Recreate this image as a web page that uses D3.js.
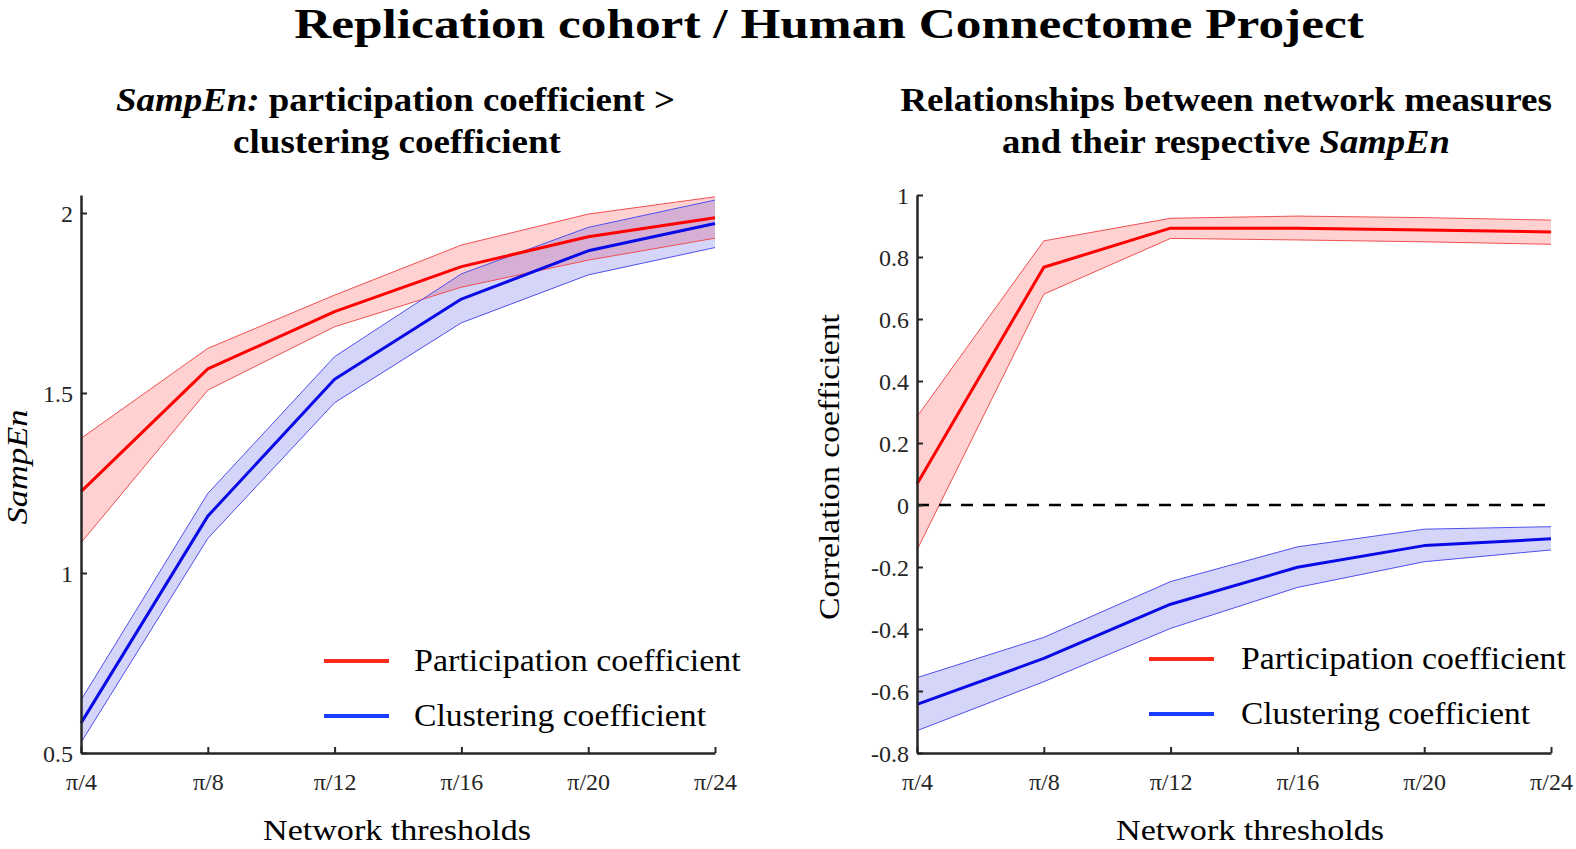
<!DOCTYPE html>
<html>
<head>
<meta charset="utf-8">
<script src="https://cdn.jsdelivr.net/npm/d3@7"></script>
<style>
  html, body { margin: 0; padding: 0; background: #fff; }
  svg { display: block; }
</style>
</head>
<body>
<svg id="chart" width="1576" height="849"></svg>
<script>
// ---------------- DATA ----------------
const thresholds = ["π/4", "π/8", "π/12", "π/16", "π/20", "π/24"];

// Left panel: SampEn
const sampenTicks = [0.5, 1, 1.5, 2];
const sampenTickLabels = ["0.5", "1", "1.5", "2"];
const sampenPartMean  = [1.226, 1.567, 1.726, 1.851, 1.934, 1.987];
const sampenPartUpper = [1.374, 1.624, 1.772, 1.911, 1.997, 2.045];
const sampenPartLower = [1.084, 1.508, 1.684, 1.794, 1.869, 1.930];
const sampenClustMean  = [0.583, 1.158, 1.538, 1.761, 1.895, 1.971];
const sampenClustUpper = [0.647, 1.221, 1.601, 1.831, 1.960, 2.036];
const sampenClustLower = [0.529, 1.096, 1.473, 1.695, 1.828, 1.904];

// Right panel: correlation coefficient
const corrTicks = [-0.8, -0.6, -0.4, -0.2, 0, 0.2, 0.4, 0.6, 0.8, 1];
const corrTickLabels = ["-0.8", "-0.6", "-0.4", "-0.2", "0", "0.2", "0.4", "0.6", "0.8", "1"];
const corrPartMean  = [0.068, 0.767, 0.893, 0.893, 0.887, 0.881];
const corrPartUpper = [0.285, 0.852, 0.925, 0.932, 0.927, 0.919];
const corrPartLower = [-0.145, 0.680, 0.860, 0.855, 0.849, 0.841];
const corrClustMean  = [-0.643, -0.495, -0.320, -0.201, -0.131, -0.109];
const corrClustUpper = [-0.557, -0.427, -0.247, -0.135, -0.078, -0.070];
const corrClustLower = [-0.728, -0.570, -0.398, -0.266, -0.183, -0.145];

const seriesNames = ["Participation coefficient", "Clustering coefficient"];

// ---------------- STYLE ----------------
const SERIF = "'Liberation Serif', 'Times New Roman', serif";
const AXIS_COL = "#262626";
const RED = "#ff0000", BLUE = "#0a0ae6";
const RED_FILL = "rgba(255,0,0,0.18)", BLUE_FILL = "rgba(20,20,230,0.18)";
const RED_EDGE = "#f05050", BLUE_EDGE = "#5050ee";
const LEG_RED = "#ff2a1a", LEG_BLUE = "#1a3cff";

const svg = d3.select("#chart");

// helper: text placed at cx, fitted horizontally to width w
function fitText(parent, cx, y, w, build, opts) {
  const g = parent.append("g").attr("transform", `translate(${cx},${y})`);
  const t = g.append("text")
    .attr("x", 0).attr("y", 0)
    .attr("text-anchor", opts.anchor || "middle")
    .attr("font-family", SERIF)
    .attr("font-size", opts.size)
    .attr("font-weight", opts.weight || "normal")
    .attr("fill", opts.fill || "#000");
  build(t);
  const nat = t.node().getComputedTextLength();
  const sx = w / nat;
  t.attr("transform", `scale(${sx},1)`);
  return g;
}

// Main title
fitText(svg, 829, 38, 1070, t => t.text("Replication cohort / Human Connectome Project"),
  { size: 42, weight: "bold" });

// Panel titles
fitText(svg, 395.5, 111, 559, t => {
  t.append("tspan").attr("font-style", "italic").text("SampEn:");
  t.append("tspan").text(" participation coefficient >");
}, { size: 34, weight: "bold" });
fitText(svg, 397, 153, 328, t => t.text("clustering coefficient"), { size: 34, weight: "bold" });

fitText(svg, 1226, 111, 652, t => t.text("Relationships between network measures"),
  { size: 34, weight: "bold" });
fitText(svg, 1226, 153, 448, t => {
  t.append("tspan").text("and their respective ");
  t.append("tspan").attr("font-style", "italic").text("SampEn");
}, { size: 34, weight: "bold" });

// ---------------- PANELS ----------------
function drawPanel(cfg) {
  const x = d3.scalePoint().domain(thresholds).range([cfg.x0, cfg.x1]).padding(0);
  const y = d3.scaleLinear().domain(cfg.yDomain).range([753, 195]);
  const g = svg.append("g");

  const series = [
    { mean: cfg.partMean, up: cfg.partUpper, lo: cfg.partLower, fill: RED_FILL, edge: RED_EDGE, col: RED },
    { mean: cfg.clustMean, up: cfg.clustUpper, lo: cfg.clustLower, fill: BLUE_FILL, edge: BLUE_EDGE, col: BLUE }
  ];

  const area = d3.area()
    .x((d, i) => x(thresholds[i]))
    .y0(d => y(d[0]))
    .y1(d => y(d[1]));
  const line = d3.line().x((d, i) => x(thresholds[i])).y(d => y(d));

  series.forEach(s => {
    const pts = s.lo.map((v, i) => [v, s.up[i]]);
    g.append("path").attr("d", area(pts)).attr("fill", s.fill).attr("stroke", "none");
  });
  series.forEach(s => {
    g.append("path").attr("d", line(s.up)).attr("fill", "none").attr("stroke", s.edge).attr("stroke-width", 1);
    g.append("path").attr("d", line(s.lo)).attr("fill", "none").attr("stroke", s.edge).attr("stroke-width", 1);
  });

  if (cfg.zeroLine) {
    g.append("line")
      .attr("x1", cfg.x0).attr("x2", cfg.x1)
      .attr("y1", y(0)).attr("y2", y(0))
      .attr("stroke", "#000").attr("stroke-width", 2.5)
      .attr("stroke-dasharray", "12,10");
  }

  series.forEach(s => {
    g.append("path").attr("d", line(s.mean)).attr("fill", "none").attr("stroke", s.col)
      .attr("stroke-width", 3).attr("stroke-linejoin", "round");
  });

  // Axes
  const yAxis = d3.axisLeft(y).tickValues(cfg.ticks)
    .tickFormat((d, i) => cfg.tickLabels[i])
    .tickSizeInner(-6).tickSizeOuter(0).tickPadding(8);
  const ya = g.append("g").attr("transform", `translate(${cfg.x0},0)`).call(yAxis);

  const xAxis = d3.axisBottom(x).tickSizeInner(-6).tickSizeOuter(0);
  const xa = g.append("g").attr("transform", "translate(0,753)").call(xAxis);

  [ya, xa].forEach(a => {
    a.select(".domain").attr("stroke", AXIS_COL).attr("stroke-width", 2.5);
    a.selectAll(".tick line").attr("stroke", AXIS_COL).attr("stroke-width", 2);
    a.selectAll(".tick text").attr("fill", AXIS_COL)
      .attr("font-family", SERIF).attr("font-size", 24);
  });
  ya.selectAll(".tick text").attr("dy", "0.35em");
  xa.selectAll(".tick text").attr("y", 37).attr("dy", null);

  // x label
  fitText(svg, (cfg.x0 + cfg.x1) / 2 + cfg.xLabelShift, 840, 268, t => t.text("Network thresholds"),
    { size: 30 });

  // y label (rotated)
  const yl = svg.append("g").attr("transform", `translate(${cfg.yLabelX},${cfg.yLabelY}) rotate(-90)`);
  fitText(yl, 0, 0, cfg.yLabelW, t => {
    const ts = t.append("tspan").text(cfg.yLabel);
    if (cfg.yLabelItalic) ts.attr("font-style", "italic");
  }, { size: 29 });

  // Legend
  const legCols = [LEG_RED, LEG_BLUE];
  const legY = [cfg.legY0, cfg.legY0 + 55];
  seriesNames.forEach((n, i) => {
    svg.append("line")
      .attr("x1", cfg.legLineX0).attr("x2", cfg.legLineX0 + 65)
      .attr("y1", legY[i]).attr("y2", legY[i])
      .attr("stroke", legCols[i]).attr("stroke-width", 4);
    fitText(svg, cfg.legTextX, legY[i] + 10, cfg.legTextW[i], t => t.text(n),
      { size: 31, anchor: "start" });
  });
}

drawPanel({
  x0: 81, x1: 715, yDomain: [0.5, 2.05],
  ticks: sampenTicks, tickLabels: sampenTickLabels,
  partMean: sampenPartMean, partUpper: sampenPartUpper, partLower: sampenPartLower,
  clustMean: sampenClustMean, clustUpper: sampenClustUpper, clustLower: sampenClustLower,
  zeroLine: false,
  xLabelShift: -1,
  yLabel: "SampEn", yLabelItalic: true, yLabelX: 27, yLabelY: 467, yLabelW: 115,
  legY0: 661, legLineX0: 324, legTextX: 414, legTextW: [327, 292]
});

drawPanel({
  x0: 917, x1: 1551, yDomain: [-0.8, 1],
  ticks: corrTicks, tickLabels: corrTickLabels,
  partMean: corrPartMean, partUpper: corrPartUpper, partLower: corrPartLower,
  clustMean: corrClustMean, clustUpper: corrClustUpper, clustLower: corrClustLower,
  zeroLine: true,
  xLabelShift: 16,
  yLabel: "Correlation coefficient", yLabelItalic: false, yLabelX: 839, yLabelY: 467, yLabelW: 306,
  legY0: 659, legLineX0: 1149, legTextX: 1241, legTextW: [325, 289]
});
</script>
</body>
</html>
